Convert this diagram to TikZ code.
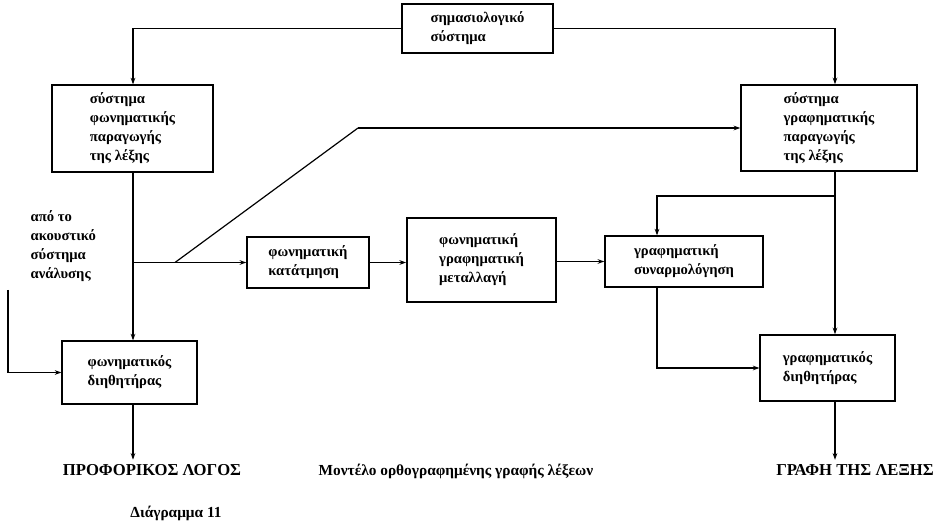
\documentclass[tikz,border=0pt]{standalone}
\usepackage{fontspec}
\setmainfont{Liberation Serif}
\usepackage{tikz}
\usetikzlibrary{arrows.meta}

\begin{document}
\begin{tikzpicture}[x=0.75pt,y=-0.75pt]
        \useasboundingbox (0,0) rectangle (936,527);

        \begin{scope}[every node/.style={draw,thick,line width=1.1pt,align=left,inner sep=0pt,
                      font=\bfseries\fontsize{11}{14.2}\selectfont}]
            \node (sem) [minimum width=113pt,minimum height=37pt] at (477.5,28.5) {σημασιολογικό\\σύστημα};
            \node (phonprod) [minimum width=121pt,minimum height=65pt] at (132.5,128.5) {σύστημα\\φωνηματικής\\παραγωγής\\της λέξης};
            \node (graphprod) [minimum width=132pt,minimum height=64.5pt] at (829,128) {σύστημα\\γραφηματικής\\παραγωγής\\της λέξης};
            \node (segm) [minimum width=91.5pt,minimum height=38pt] at (308,262.5) {φωνηματική\\κατάτμηση};
            \node (trans) [minimum width=112pt,minimum height=63pt] at (481.5,260) {φωνηματική\\γραφηματική\\μεταλλαγή};
            \node (assem) [minimum width=118.5pt,minimum height=38pt] at (684,261.5) {γραφηματική\\συναρμολόγηση};
            \node (graphfilt) [minimum width=101pt,minimum height=49.5pt] at (827.5,368) {γραφηματικός\\διηθητήρας};
            \node (phonfilt) [minimum width=101pt,minimum height=47pt] at (129.5,372.5) {φωνηματικός\\διηθητήρας};
        \end{scope}

        \begin{scope}[every node/.style={font=\bfseries\fontsize{12.5}{15}\selectfont}]
            \node (speech) at (152,470) {ΠΡΟΦΟΡΙΚΟΣ ΛΟΓΟΣ};
            \node (writing) at (855,470) {ΓΡΑΦΗ ΤΗΣ ΛΕΞΗΣ};
            \node (title) [font=\bfseries\fontsize{11.5}{13}\selectfont] at (456,471) {Μοντέλο ορθογραφημένης γραφής λέξεων};
            \node (caption) [font=\bfseries\fontsize{11.5}{13}\selectfont] at (176,513) {Διάγραμμα 11};
        \end{scope}

        \node (acoustic) [anchor=west,align=left,font=\bfseries\fontsize{11}{14.2}\selectfont] at (26,246) {από το\\ακουστικό\\σύστημα\\ανάλυσης};

        % points where the lines turn
        \coordinate (lx) at (133,0);
        \coordinate (rx) at (835,0);
        \coordinate (ax) at (657,0);
        \coordinate (fork) at (835,196);
        \coordinate (diag) at (175,262.5);
        \coordinate (kink) at (358,128);
        \coordinate (feed) at (8,290);

        \begin{scope}[>={Stealth[length=5pt,width=3.5pt]},line width=0.9pt]
            \draw [->] (sem.west) -| (phonprod.north -| lx);
            \draw [->] (sem.east) -| (graphprod.north -| rx);
            \draw [->] (phonprod.south -| lx) -- (phonfilt.north -| lx);
            \draw [->] (segm.west -| lx) -- (segm.west);
            \draw (diag) -- (kink);
            \draw [->] (kink) -- (kink -| graphprod.west);
            \draw [->] (segm.east) -- (segm.east -| trans.west);
            \draw [->] (trans.east |- assem.west) -- (assem.west);
            \draw [->] (graphprod.south -| rx) -- (graphfilt.north -| rx);
            \draw [->] (fork) -| (assem.north -| ax);
            \draw [->] (assem.south -| ax) |- (graphfilt.west);
            \draw [->] (graphfilt.south -| rx) -- (writing.north -| rx);
            \draw [->] (phonfilt.south -| lx) -- (speech.north -| lx);
            \draw [->] (feed) |- (phonfilt.west);
        \end{scope}
    \end{tikzpicture}
\end{document}
